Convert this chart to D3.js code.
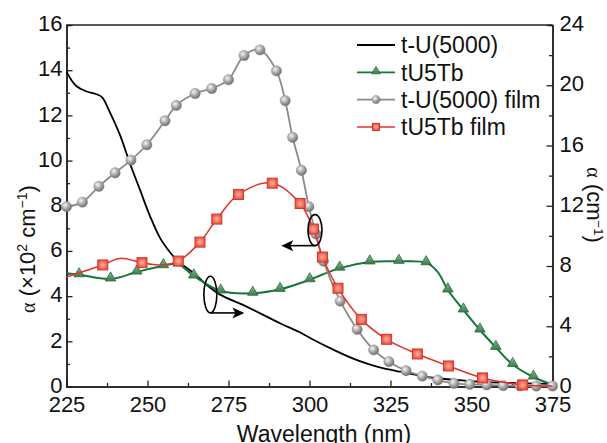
<!DOCTYPE html>
<html>
<head>
<meta charset="utf-8">
<script src="https://cdn.jsdelivr.net/npm/d3@7"></script>
<style>
  body { margin: 0; background: #fff; }
  svg { display: block; font-family: "Liberation Sans", Arial, sans-serif; }
</style>
</head>
<body>
<svg id="chart" width="607" height="443"></svg>
<script>
// ---- data ----
// crystals use the right axis (cm^-1), films use the left axis (x10^2 cm^-1)

// t-U(5000), plain line
const tuNm  = [225, 226.5, 228, 231, 234.3, 236, 238.4, 241.5, 244.6, 247.7, 250.8, 253.9, 257, 259.5, 264.4, 268.5, 272.4, 280.6, 290.9, 297, 301.2, 307.3, 313.5, 318, 322, 328, 338, 348.5, 359, 375];
const tuVal = [20.9, 20.35, 19.95, 19.6, 19.4, 19.2, 18.2, 16.7, 14.8, 13.05, 11.3, 9.85, 8.9, 8.3, 7.5, 6.7, 6.1, 5.3, 4.2, 3.6, 3.1, 2.45, 1.85, 1.5, 1.25, 0.98, 0.58, 0.38, 0.26, 0.17];

// tU5Tb, line with triangles (sym = 1 where a triangle is drawn)
const tbNm  = [225, 228.9, 238.6, 246.7, 254.9, 259.5, 264.3, 272.6, 282.5, 290.9, 300.1, 309.3, 318.6, 327.6, 336, 339.6, 342.7, 347.5, 352.6, 357.5, 362.7, 369.1, 375];
const tbVal = [7.52, 7.42, 7.14, 7.6, 8.02, 8.12, 7.34, 6.34, 6.19, 6.45, 7.09, 7.86, 8.27, 8.31, 8.22, 7.6, 6.41, 5.08, 3.75, 2.6, 1.46, 0.63, 0.12];
const tbSym = [0, 1, 1, 1, 1, 0, 1, 1, 1, 1, 1, 1, 1, 1, 1, 0, 1, 1, 1, 1, 1, 1, 0];

// t-U(5000) film, line with spheres at every point
const tufNm  = [225, 229.9, 235, 240, 244.9, 249.8, 255.4, 258.9, 264.7, 269.8, 275, 279.8, 284.7, 289.8, 292.5, 294.8, 297.5, 299.8, 302, 304.3, 309.5, 314.7, 319.8, 324.5, 329.8, 334.8, 339.6, 344.6, 349.5, 354.7, 359.8, 365, 370, 375];
const tufVal = [7.96, 8.16, 8.86, 9.46, 10.02, 10.7, 11.76, 12.44, 12.97, 13.19, 13.58, 14.65, 14.9, 13.97, 12.65, 11.03, 9.57, 7.96, 6.75, 5.55, 3.78, 2.53, 1.62, 1.1, 0.7, 0.46, 0.29, 0.14, 0.1, 0.07, 0.04, 0.03, 0.02, 0.02];

// tU5Tb film, line with squares (sym = 1 where a square is drawn)
const tbfNm  = [225, 236.2, 241.5, 248.3, 253.5, 259.5, 266.2, 271.4, 278.1, 288.5, 297.1, 301.2, 304, 308.8, 316, 323.8, 333.3, 342.9, 353.4, 365.8, 375];
const tbfVal = [4.85, 5.38, 5.67, 5.48, 5.38, 5.55, 6.39, 7.41, 8.5, 9.0, 8.1, 6.97, 5.73, 4.35, 2.97, 2.09, 1.44, 0.91, 0.38, 0.07, 0.02];
const tbfSym = [0, 1, 0, 1, 0, 1, 1, 1, 1, 1, 1, 1, 1, 1, 1, 1, 1, 1, 1, 1, 0];

const xTicks = [225, 250, 275, 300, 325, 350, 375];
const yLeftTicks = [0, 2, 4, 6, 8, 10, 12, 14, 16];
const yRightTicks = [0, 4, 8, 12, 16, 20, 24];

const legendNames = ["t-U(5000)", "tU5Tb", "t-U(5000) film", "tU5Tb film"];

// ---- layout ----
const margin = {left: 66.5, top: 25, right: 54.5, bottom: 56.5};
const W = 607 - margin.left - margin.right;
const H = 443 - margin.top - margin.bottom;

const svg = d3.select("#chart");
const defs = svg.append("defs");

let gs = defs.append("radialGradient").attr("id", "ball").attr("cx", 0.38).attr("cy", 0.35).attr("r", 0.7);
gs.append("stop").attr("offset", "0%").attr("stop-color", "#f6f6f6");
gs.append("stop").attr("offset", "45%").attr("stop-color", "#b0b0b0");
gs.append("stop").attr("offset", "100%").attr("stop-color", "#666");

let gr = defs.append("radialGradient").attr("id", "sq").attr("r", 0.7);
gr.append("stop").attr("offset", "0%").attr("stop-color", "#f8b4a2");
gr.append("stop").attr("offset", "55%").attr("stop-color", "#ef6a55");
gr.append("stop").attr("offset", "100%").attr("stop-color", "#dc3c30");

let gt = defs.append("linearGradient").attr("id", "tri").attr("x1", 0).attr("y1", 0).attr("x2", 0).attr("y2", 1);
gt.append("stop").attr("offset", "0%").attr("stop-color", "#86b891");
gt.append("stop").attr("offset", "100%").attr("stop-color", "#3a7a4a");

const g = svg.append("g").attr("transform", `translate(${margin.left},${margin.top})`);

const x = d3.scaleLinear().domain([225, 375]).range([0, W]);
const yL = d3.scaleLinear().domain([0, 16]).range([H, 0]);
const yR = d3.scaleLinear().domain([0, 24]).range([H, 0]);

// ---- axes ----
function styleAxis(sel) {
    sel.select(".domain").attr("stroke", "#222").attr("stroke-width", 1.5);
    sel.selectAll(".tick line").attr("stroke", "#222").attr("stroke-width", 1.3);
    sel.selectAll(".tick text").attr("fill", "#111").style("font-size", "22px")
        .style("font-family", '"Liberation Sans", Arial, sans-serif');
}

// minor ticks first so majors sit on top
g.append("g").attr("transform", `translate(0,${H})`)
    .call(d3.axisBottom(x).tickValues(d3.range(237.5, 375, 25)).tickSize(-3.5).tickFormat(""))
    .call(styleAxis);
g.append("g")
    .call(d3.axisLeft(yL).tickValues(d3.range(1, 16, 2)).tickSize(-3.5).tickFormat(""))
    .call(styleAxis);
g.append("g").attr("transform", `translate(${W},0)`)
    .call(d3.axisRight(yR).tickValues(d3.range(2, 24, 4)).tickSize(-3.5).tickFormat(""))
    .call(styleAxis);

g.append("g").attr("transform", `translate(0,${H})`)
    .call(d3.axisBottom(x).tickValues(xTicks).tickSize(-6).tickSizeOuter(0).tickPadding(9.5).tickFormat(d3.format("d")))
    .call(styleAxis);
g.append("g")
    .call(d3.axisLeft(yL).tickValues(yLeftTicks).tickSize(-6).tickSizeOuter(0).tickPadding(4))
    .call(styleAxis)
    .selectAll(".tick text").attr("dy", "0.26em");
g.append("g").attr("transform", `translate(${W},0)`)
    .call(d3.axisRight(yR).tickValues(yRightTicks).tickSize(-6).tickSizeOuter(0).tickPadding(7))
    .call(styleAxis)
    .selectAll(".tick text").attr("dy", "0.26em");

// top frame line
g.append("line").attr("x1", 0).attr("x2", W).attr("y1", 0).attr("y2", 0)
    .attr("stroke", "#222").attr("stroke-width", 1.5);

// ---- lines ----
function makeLine(yScale) {
    return d3.line().x(d => x(d[0])).y(d => yScale(d[1])).curve(d3.curveCatmullRom.alpha(0.5));
}
const tu  = tuNm.map((n, i) => [n, tuVal[i]]);
const tb  = tbNm.map((n, i) => [n, tbVal[i], tbSym[i]]);
const tuf = tufNm.map((n, i) => [n, tufVal[i]]);
const tbf = tbfNm.map((n, i) => [n, tbfVal[i], tbfSym[i]]);

g.append("path").datum(tu).attr("d", makeLine(yR))
    .attr("fill", "none").attr("stroke", "#000").attr("stroke-width", 1.8);

g.append("path").datum(tb).attr("d", makeLine(yR))
    .attr("fill", "none").attr("stroke", "#13773a").attr("stroke-width", 2);
const triPath = d3.symbol().type(d3.symbolTriangle).size(48);
g.selectAll(".tri").data(tb.filter(d => d[2])).join("path")
    .attr("class", "tri")
    .attr("transform", d => `translate(${x(d[0])},${yR(d[1]) - 1})`)
    .attr("d", triPath)
    .attr("fill", "url(#tri)").attr("stroke", "#2c6a3b").attr("stroke-width", 0.8);

g.append("path").datum(tuf).attr("d", makeLine(yL))
    .attr("fill", "none").attr("stroke", "#8a8a8a").attr("stroke-width", 1.8);
g.selectAll(".ball").data(tuf).join("circle")
    .attr("class", "ball")
    .attr("cx", d => x(d[0])).attr("cy", d => yL(d[1])).attr("r", 5.2)
    .attr("fill", "url(#ball)").attr("stroke", "#888").attr("stroke-width", 0.4);

g.append("path").datum(tbf).attr("d", makeLine(yL))
    .attr("fill", "none").attr("stroke", "#e3322c").attr("stroke-width", 1.5);
g.selectAll(".sq").data(tbf.filter(d => d[2])).join("rect")
    .attr("class", "sq")
    .attr("x", d => x(d[0]) - 5).attr("y", d => yL(d[1]) - 5)
    .attr("width", 10).attr("height", 10)
    .attr("fill", "url(#sq)").attr("stroke", "#d8322a").attr("stroke-width", 1);

// ---- annotation: ellipses + arrows pointing to the axis each pair uses ----
function arrowHead(tx, ty, dir) {
    // dir = -1 points left, 1 points right
    const L = 12, Wd = 5.5, back = 3;
    return `M${tx},${ty} L${tx - dir * L},${ty - Wd} L${tx - dir * (L - back)},${ty} L${tx - dir * L},${ty + Wd} Z`;
}
// films -> left axis
const e1 = {nm: 301.7, v: 6.92, tip: 291.3};
g.append("ellipse").attr("cx", x(e1.nm)).attr("cy", yL(e1.v)).attr("rx", 7).attr("ry", 15.5)
    .attr("fill", "none").attr("stroke", "#000").attr("stroke-width", 1.6);
g.append("line").attr("x1", x(e1.nm)).attr("x2", x(e1.tip) + 4)
    .attr("y1", yL(e1.v) + 15.5).attr("y2", yL(e1.v) + 15.5)
    .attr("stroke", "#000").attr("stroke-width", 1.6);
g.append("path").attr("d", arrowHead(x(e1.tip), yL(e1.v) + 15.5, -1)).attr("fill", "#000");

// crystals -> right axis
const e2 = {nm: 269.4, v: 6.1, tip: 279.9};
g.append("ellipse").attr("cx", x(e2.nm)).attr("cy", yR(e2.v)).attr("rx", 6.5).attr("ry", 18.3)
    .attr("fill", "none").attr("stroke", "#000").attr("stroke-width", 1.6);
g.append("line").attr("x1", x(e2.nm)).attr("x2", x(e2.tip) - 4)
    .attr("y1", yR(e2.v) + 18.3).attr("y2", yR(e2.v) + 18.3)
    .attr("stroke", "#000").attr("stroke-width", 1.6);
g.append("path").attr("d", arrowHead(x(e2.tip), yR(e2.v) + 18.3, 1)).attr("fill", "#000");

// ---- legend ----
const leg = svg.append("g").attr("transform", "translate(357,45)");
legendNames.forEach((name, i) => {
    const row = leg.append("g").attr("transform", `translate(0,${i * 27.3})`);
    const col = ["#000", "#13773a", "#8a8a8a", "#e3322c"][i];
    row.append("line").attr("x1", 0).attr("x2", 38).attr("y1", 0).attr("y2", 0)
        .attr("stroke", col).attr("stroke-width", i === 3 ? 1.5 : 1.8);
    if (i === 1) row.append("path").attr("transform", "translate(19,-1)")
        .attr("d", d3.symbol().type(d3.symbolTriangle).size(32)())
        .attr("fill", "url(#tri)").attr("stroke", "#2c6a3b").attr("stroke-width", 0.8);
    if (i === 2) row.append("circle").attr("cx", 19).attr("r", 4.2)
        .attr("fill", "url(#ball)").attr("stroke", "#888").attr("stroke-width", 0.4);
    if (i === 3) row.append("rect").attr("x", 15.5).attr("y", -3.5).attr("width", 7).attr("height", 7)
        .attr("fill", "url(#sq)").attr("stroke", "#d8322a").attr("stroke-width", 1);
    row.append("text").attr("x", 44).attr("dy", "0.36em")
        .style("font-size", "23px").attr("fill", "#111").text(name);
});

// ---- axis titles ----
svg.append("text").attr("x", 324).attr("y", 442).attr("text-anchor", "middle")
    .style("font-size", "23px").attr("fill", "#111").text("Wavelength (nm)");

const lt = svg.append("text").attr("transform", "translate(35,249) rotate(-90)")
    .attr("text-anchor", "middle").style("font-size", "22px").attr("fill", "#111");
lt.append("tspan").style("font-family", '"Liberation Serif", serif').style("font-size", "20px").text("α");
lt.append("tspan").text(" (×10");
lt.append("tspan").attr("baseline-shift", "super").style("font-size", "14px").text("2");
lt.append("tspan").text(" cm");
lt.append("tspan").attr("baseline-shift", "super").style("font-size", "14px").text("−1");
lt.append("tspan").text(")");

const rt = svg.append("text").attr("transform", "translate(587,205) rotate(90)")
    .attr("text-anchor", "middle").style("font-size", "22px").attr("fill", "#111");
rt.append("tspan").style("font-family", '"Liberation Serif", serif').style("font-size", "20px").text("α");
rt.append("tspan").text(" (cm");
rt.append("tspan").attr("baseline-shift", "super").style("font-size", "13px").text("−1");
rt.append("tspan").text(")");
</script>
</body>
</html>
